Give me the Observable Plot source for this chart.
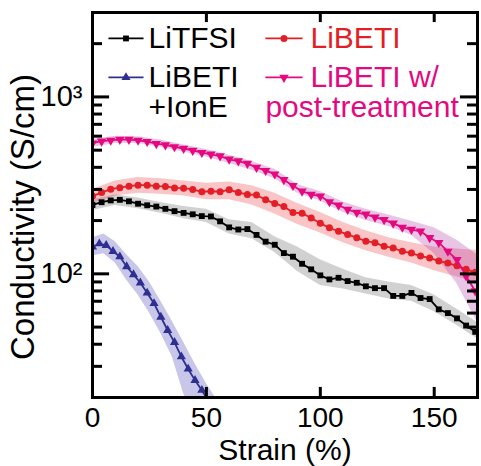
<!DOCTYPE html>
<html>
<head>
<meta charset="utf-8">
<script src="https://cdn.jsdelivr.net/npm/d3@7"></script>
<script src="https://cdn.jsdelivr.net/npm/@observablehq/plot@0.6"></script>
<style>
  html, body { margin: 0; padding: 0; background: #fff; }
  #chart svg { display: block; }
</style>
</head>
<body>
<div id="chart"></div>
<script>
// Strain (%) at each measured point
const strain = [0, 4, 8, 12, 16, 20, 24, 28, 32, 36, 40, 44, 48, 52, 56, 60, 64, 68, 72, 76, 80,
  84, 88, 92, 96, 100, 104, 108, 112, 116, 120, 124, 128, 132, 136, 140, 144, 148, 152, 156, 160, 164, 168];

// Conductivity (S/cm)
const litfsi = [245, 254, 260, 262, 257, 249, 244, 240, 233, 226, 221, 217, 212, 211, 198, 183, 178, 179, 166, 152, 146,
  131, 125, 114, 106, 98, 93, 95, 91, 89, 85, 83, 83, 75, 75, 78, 73, 72, 63, 60, 56, 51, 47];
const libeti = [275, 288, 301, 307, 313, 317, 317, 313, 312, 306, 305, 300, 291, 293, 291, 299, 288, 281, 279, 262, 250,
  240, 222, 220, 207, 193, 182, 174, 167, 160, 153, 150, 143, 140, 134, 131, 126, 123, 118, 115, 111, 106, 102];
const libetiPost = [548, 562, 568, 574, 574, 568, 559, 544, 535, 522, 511, 498, 484, 474, 463, 444, 434, 420, 399, 383, 366,
  340, 315, 293, 281, 275, 255, 244, 231, 222, 217, 209, 202, 193, 183, 178, 174, 160, 150, 134, 120, 97, 80];

const ionStrain = [0, 3, 6, 9, 12, 15, 18, 21, 24, 27, 30, 33, 36, 39, 42, 45, 48, 51];
const libetiIonE = [142, 148, 145, 134, 125, 110, 99, 89, 78, 68, 57, 48, 41, 34, 29, 25, 22, 19];

// Spread between samples (lower / upper envelope)
const bandStrain = [0, 10, 20, 30, 40, 50, 60, 70, 80, 90, 100, 110, 120, 130, 140, 150, 160, 170];
const litfsiLo = [228, 243, 233, 220, 205, 195, 168, 158, 132, 103, 86, 82, 77, 72, 70, 61, 51, 42];
const litfsiHi = [262, 280, 268, 253, 240, 232, 202, 195, 162, 142, 120, 106, 95, 90, 86, 76, 63, 52];
const libetiLo = [250, 275, 285, 282, 275, 262, 262, 245, 218, 190, 170, 150, 135, 124, 115, 104, 96, 88];
const libetiHi = [300, 335, 350, 345, 335, 325, 330, 315, 285, 250, 222, 195, 175, 160, 150, 142, 138, 135];
const postLo = [520, 545, 545, 520, 488, 458, 420, 385, 345, 285, 258, 222, 200, 185, 165, 130, 88, 50];
const postHi = [575, 600, 595, 570, 535, 505, 468, 432, 390, 320, 292, 255, 232, 215, 198, 182, 155, 125];

const ionBandStrain = [0, 5, 10, 15, 20, 25, 30, 35, 40, 45, 50, 55];
const ionLo = [126, 130, 115, 92, 76, 60, 46, 34, 21, 16, 12, 10];
const ionHi = [160, 168, 152, 128, 110, 90, 70, 54, 41, 31, 24, 19];

// Axis ticks
const xTickValues = [0, 50, 100, 150];
const yMajor = [100, 1000];
const yMinor = [30, 40, 50, 60, 70, 80, 90, 200, 300, 400, 500, 600, 700, 800, 900, 2000];
const yTickText = {100: "10²", 1000: "10³"};

const xDomain = [0, 169];
const yDomain = [20, 3000];

const series = [
  {name: "LiTFSI", x: strain, y: litfsi, bx: bandStrain, lo: litfsiLo, hi: litfsiHi,
   color: "#000000", band: "#000000", bandOpacity: 0.18, symbol: "square", rotate: 0, r: 3.3},
  {name: "LiBETI", x: strain, y: libeti, bx: bandStrain, lo: libetiLo, hi: libetiHi,
   color: "#e41e26", band: "#e8191f", bandOpacity: 0.25, symbol: "circle", rotate: 0, r: 3.5},
  {name: "LiBETI w/ post-treatment", x: strain, y: libetiPost, bx: bandStrain, lo: postLo, hi: postHi,
   color: "#e4097f", band: "#b43fa8", bandOpacity: 0.3, symbol: "triangle", rotate: 180, r: 3.5},
  {name: "LiBETI +IonE", x: ionStrain, y: libetiIonE, bx: ionBandStrain, lo: ionLo, hi: ionHi,
   color: "#2e2f8f", band: "#4b45b5", bandOpacity: 0.3, symbol: "triangle", rotate: 0, r: 3.4}
];

const marks = [];

// shaded spread
for (const s of series) {
  const rows = s.bx.map((v, i) => ({strain: v, lo: s.lo[i], hi: s.hi[i]}));
  marks.push(Plot.areaY(rows, {x: "strain", y1: "lo", y2: "hi", fill: s.band, fillOpacity: s.bandOpacity, clip: true}));
}
// lines and markers
for (const s of series) {
  const rows = s.x.map((v, i) => ({strain: v, value: s.y[i]}));
  marks.push(Plot.line(rows, {x: "strain", y: "value", stroke: s.color, strokeWidth: 1.8, clip: true}));
  marks.push(Plot.dot(rows, {x: "strain", y: "value", symbol: () => s.symbol, r: s.r, fill: s.color,
    stroke: "none", rotate: s.rotate, clip: true}));
}

// inward ticks on all four sides
const majLen = 7.5, minLen = 4.4;           // in strain units
const xTickFactor = 1.14;                   // tick length along the log axis
marks.push(
  Plot.ruleY(yMajor, {x1: xDomain[0], x2: xDomain[0] + majLen, stroke: "#000", strokeWidth: 3}),
  Plot.ruleY(yMinor, {x1: xDomain[0], x2: xDomain[0] + minLen, stroke: "#000", strokeWidth: 3}),
  Plot.ruleY(yMajor, {x1: xDomain[1] - majLen, x2: xDomain[1], stroke: "#000", strokeWidth: 3}),
  Plot.ruleY(yMinor, {x1: xDomain[1] - minLen, x2: xDomain[1], stroke: "#000", strokeWidth: 3}),
  Plot.ruleX(xTickValues.slice(1), {y1: yDomain[0], y2: yDomain[0] * xTickFactor, stroke: "#000", strokeWidth: 3}),
  Plot.ruleX(xTickValues.slice(1), {y1: yDomain[1] / xTickFactor, y2: yDomain[1], stroke: "#000", strokeWidth: 3}),
  Plot.frame({stroke: "#000", strokeWidth: 3})
);

// axes labels
marks.push(
  Plot.axisX(xTickValues, {tickSize: 0, tickPadding: 10, fontSize: 28, label: null}),
  Plot.axisY(yMajor, {tickSize: 0, tickPadding: 10, fontSize: 29, label: null, tickFormat: d => yTickText[d]}),
  Plot.text(["Strain (%)"], {frameAnchor: "bottom", dy: 62, lineAnchor: "bottom", fontSize: 30}),
  Plot.text(["Conductivity (S/cm)"], {frameAnchor: "left", textAnchor: "middle", rotate: -90, dx: -59, dy: 12,
    lineAnchor: "bottom", fontSize: 33})
);

// legend, placed in the upper part of the frame (data units)
const legendRowTop = 2140, legendRowMid = 1288, legendRowLow = 872;
const legendLeft = [7.0, 22.4], legendRight = [75.9, 92.2];
const legendEntries = [
  {s: series[0], seg: legendLeft, y: legendRowTop},
  {s: series[1], seg: legendRight, y: legendRowTop},
  {s: series[3], seg: legendLeft, y: legendRowMid},
  {s: series[2], seg: legendRight, y: legendRowMid}
];
for (const e of legendEntries) {
  marks.push(Plot.link([e], {x1: e.seg[0], x2: e.seg[1], y1: e.y, y2: e.y, stroke: e.s.color, strokeWidth: 1.8}));
  marks.push(Plot.dot([e], {x: (e.seg[0] + e.seg[1]) / 2, y: e.y, symbol: () => e.s.symbol, r: e.s.r,
    fill: e.s.color, stroke: "none", rotate: e.s.rotate}));
}
const legendText = [
  {t: "LiTFSI", x: 24.6, y: legendRowTop, c: series[0].color},
  {t: "LiBETI", x: 95.7, y: legendRowTop, c: series[1].color},
  {t: "LiBETI", x: 24.6, y: legendRowMid, c: "#000000"},
  {t: "+IonE", x: 24.6, y: legendRowLow, c: "#000000"},
  {t: "LiBETI w/", x: 95.7, y: legendRowMid, c: series[2].color},
  {t: "post-treatment", x: 75.9, y: legendRowLow, c: series[2].color}
];
marks.push(Plot.text(legendText, {x: "x", y: "y", text: "t", fill: "c", textAnchor: "start", fontSize: 30}));

const chart = Plot.plot({
  width: 481,
  height: 466,
  marginLeft: 92,
  marginRight: 4,
  marginTop: 12,
  marginBottom: 69,
  style: {fontFamily: "'Liberation Sans', Arial, Helvetica, sans-serif", fontSize: "30px", color: "#000", background: "#fff"},
  x: {domain: xDomain, axis: null},
  y: {type: "log", domain: yDomain, axis: null},
  marks
});
document.getElementById("chart").appendChild(chart);
</script>
</body>
</html>
